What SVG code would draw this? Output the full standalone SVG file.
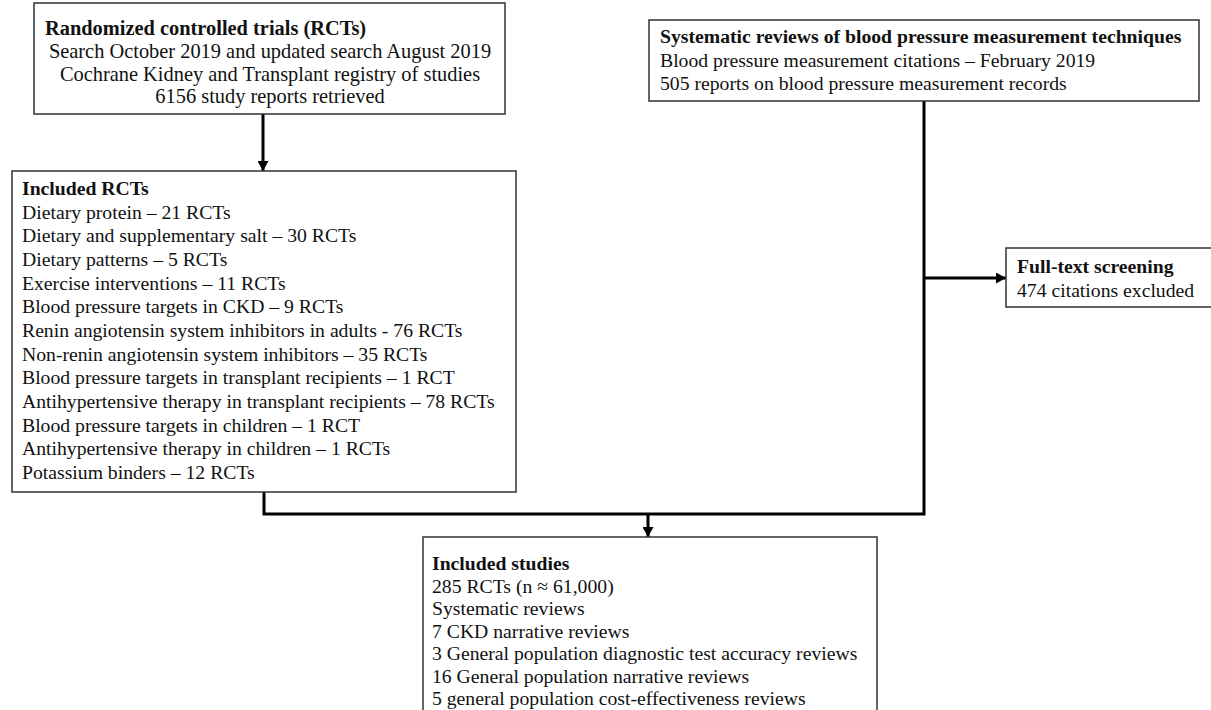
<svg xmlns="http://www.w3.org/2000/svg" width="1211" height="710" viewBox="0 0 1211 710">
<style>
.box{fill:#fff;stroke:#333;stroke-width:1.5}
.t{font-family:"Liberation Serif","Times New Roman",serif;font-size:19.7px;fill:#111}
.big{font-size:20.4px}
.b{font-weight:bold}
.c{text-anchor:middle}
.conn{fill:none;stroke:#000;stroke-width:3}
</style>
<defs>
<marker id="ah" markerUnits="userSpaceOnUse" markerWidth="10" markerHeight="11" refX="10" refY="5.5" orient="auto">
<path d="M0,0 L10,5.5 L0,11 z" fill="#000"/>
</marker>
</defs>
<rect width="1211" height="710" fill="#fff"/>
<g id="connectors">
<line class="conn" x1="263" y1="114" x2="263" y2="171" marker-end="url(#ah)"/>
<polyline class="conn" points="264,492 264,514 924,514 924,101"/>
<line class="conn" x1="648" y1="514" x2="648" y2="537" marker-end="url(#ah)"/>
<line class="conn" x1="924" y1="278" x2="1006" y2="278" marker-end="url(#ah)"/>
</g>
<g id="rcts">
<rect class="box" x="34" y="3" width="471" height="111"/>
<text class="t big b" x="45" y="35">Randomized controlled trials (RCTs)</text>
<text class="t big c" x="270" y="58">Search October 2019 and updated search August 2019</text>
<text class="t big c" x="270" y="81">Cochrane Kidney and Transplant registry of studies</text>
<text class="t big c" x="270" y="103">6156 study reports retrieved</text>
</g>
<g id="included-rcts">
<rect class="box" x="12" y="171" width="504" height="321"/>
<text class="t b" x="22" y="195">Included RCTs</text>
<text class="t" x="22" y="218.7">Dietary protein – 21 RCTs</text>
<text class="t" x="22" y="242.3">Dietary and supplementary salt – 30 RCTs</text>
<text class="t" x="22" y="266">Dietary patterns – 5 RCTs</text>
<text class="t" x="22" y="289.7">Exercise interventions – 11 RCTs</text>
<text class="t" x="22" y="313.3">Blood pressure targets in CKD – 9 RCTs</text>
<text class="t" x="22" y="337">Renin angiotensin system inhibitors in adults - 76 RCTs</text>
<text class="t" x="22" y="360.7">Non-renin angiotensin system inhibitors – 35 RCTs</text>
<text class="t" x="22" y="384.3">Blood pressure targets in transplant recipients – 1 RCT</text>
<text class="t" x="22" y="408">Antihypertensive therapy in transplant recipients – 78 RCTs</text>
<text class="t" x="22" y="431.7">Blood pressure targets in children – 1 RCT</text>
<text class="t" x="22" y="455.3">Antihypertensive therapy in children – 1 RCTs</text>
<text class="t" x="22" y="479">Potassium binders – 12 RCTs</text>
</g>
<g id="sr-bp">
<rect class="box" x="649" y="20" width="550" height="81"/>
<text class="t b" x="660" y="43">Systematic reviews of blood pressure measurement techniques</text>
<text class="t" x="660" y="66.5">Blood pressure measurement citations – February 2019</text>
<text class="t" x="660" y="90">505 reports on blood pressure measurement records</text>
</g>
<g id="fulltext">
<rect class="box" x="1006" y="248" width="210" height="59"/>
<text class="t b" x="1017" y="273">Full-text screening</text>
<text class="t" x="1017" y="297">474 citations excluded</text>
</g>
<g id="included-studies">
<rect class="box" x="423" y="537" width="454" height="185"/>
<text class="t b" x="432" y="570">Included studies</text>
<text class="t" x="432" y="592.5">285 RCTs (n ≈ 61,000)</text>
<text class="t" x="432" y="615">Systematic reviews</text>
<text class="t" x="432" y="637.5">7 CKD narrative reviews</text>
<text class="t" x="432" y="660">3 General population diagnostic test accuracy reviews</text>
<text class="t" x="432" y="682.5">16 General population narrative reviews</text>
<text class="t" x="432" y="705">5 general population cost-effectiveness reviews</text>
</g>
</svg>
